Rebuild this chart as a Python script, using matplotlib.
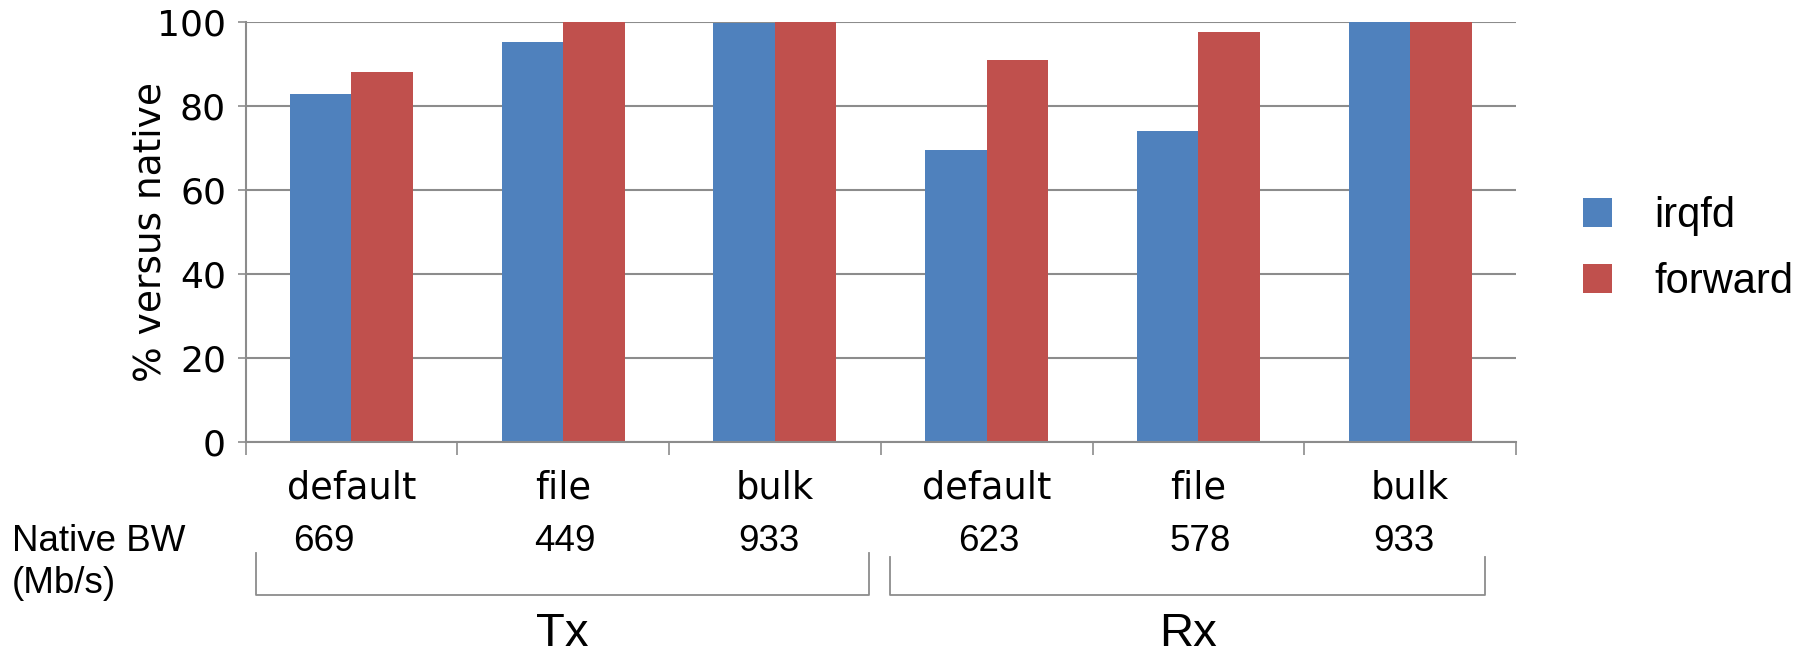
import matplotlib
matplotlib.use("Agg")
import matplotlib.pyplot as plt
import numpy as np

categories = ["default", "file", "bulk", "default", "file", "bulk"]
irqfd = [82.8, 95.2, 99.7, 69.5, 74.0, 100.0]
forward = [88.0, 100.0, 100.0, 90.9, 97.5, 100.0]
native_bw = ["669", "449", "933", "623", "578", "933"]
groups = ["Tx", "Rx"]
series_names = ["irqfd", "forward"]
yticks = [0, 20, 40, 60, 80, 100]

BLUE = "#4F81BD"
RED = "#C0504D"
GRAY = "#8c8c8c"
DV = "DejaVu Sans"
LS = "Liberation Sans"

fig = plt.figure(figsize=(18.08, 6.54), dpi=100)
ax = fig.add_axes([0.1358, 0.3242, 0.8385 - 0.1358, 0.9668 - 0.3242])

x = np.arange(len(categories))
w = 0.29
b1 = ax.bar(x - w / 2, irqfd, w, color=BLUE, zorder=3, label=series_names[0])
b2 = ax.bar(x + w / 2, forward, w, color=RED, zorder=3, label=series_names[1])

ax.set_xlim(-0.5, len(categories) - 0.5)
ax.set_ylim(0, 100)
ax.set_yticks(yticks)
ax.set_yticklabels([str(v) for v in yticks], fontfamily=DV, fontsize=26)
ax.yaxis.grid(True, color=GRAY, linewidth=1.5, zorder=0)
ax.set_axisbelow(True)

for s in ["top", "right"]:
    ax.spines[s].set_visible(False)
for s in ["left", "bottom"]:
    ax.spines[s].set_color(GRAY)
    ax.spines[s].set_linewidth(1.5)
    ax.spines[s].set_zorder(4)

ax.tick_params(axis="y", length=6, width=1.2, color=GRAY, pad=8)
ax.set_xticks(x)
ax.set_xticklabels(categories, fontfamily=DV, fontsize=26.5)
ax.tick_params(axis="x", which="major", length=0, pad=20)
ax.set_xticks(np.arange(-0.5, len(categories)), minor=True)
ax.tick_params(axis="x", which="minor", length=9, width=1.2, color=GRAY)

ax.set_ylabel("% versus native", fontfamily=DV, fontsize=27, labelpad=-8)

# native bandwidth row
trans = ax.get_xaxis_transform()
nudge = [-0.13, 0.01, -0.03, 0.01, 0.01, -0.03]
for i, t in enumerate(native_bw):
    ax.text(x[i] + nudge[i], -0.236, t, transform=trans, ha="center", va="center",
            fontfamily=LS, fontsize=26.5)
fig.text(0.0064, 0.172, "Native BW", fontfamily=LS, fontsize=26.5, ha="left", va="center")
fig.text(0.0064, 0.108, "(Mb/s)", fontfamily=LS, fontsize=26.5, ha="left", va="center")

# group brackets
brackets = [(-0.45, 2.445, -0.264), (2.544, 5.354, -0.274)]
for (x0, x1, ytop), g in zip(brackets, groups):
    ax.plot([x0, x0, x1, x1], [ytop, -0.364, -0.364, ytop], transform=trans,
            color=GRAY, linewidth=1.3, clip_on=False)
    ax.text((x0 + x1) / 2, -0.456, g, transform=trans, ha="center", va="center",
            fontfamily=LS, fontsize=34)

leg = fig.legend(handles=[b1, b2], labels=series_names, loc="center left",
                 bbox_to_anchor=(0.8756, 0.619), frameon=False, prop={"family": LS, "size": 30},
                 handlelength=0.7, handleheight=0.7, handletextpad=1.0, labelspacing=0.63,
                 borderpad=0, borderaxespad=0)

fig.savefig("out.png", dpi=100)
